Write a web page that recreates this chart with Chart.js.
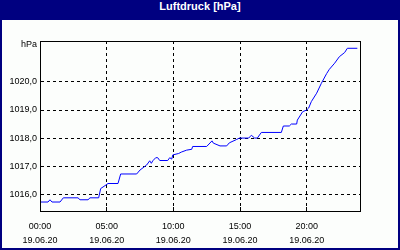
<!DOCTYPE html>
<html lang="de">
<head>
  <meta charset="UTF-8">
  <title>Luftdruck [hPa]</title>
  <script src="https://cdn.jsdelivr.net/npm/chart.js"></script>
  <style>
    html, body { margin: 0; padding: 0; }
    #frame { width: 400px; height: 250px; box-sizing: border-box; background: #000080; padding: 0 2px 2px 2px; }
    #title { height: 20px; line-height: 13px; text-align: center; color: #fff; font: bold 11px "Liberation Sans", Arial, sans-serif; }
    #wrap { position: relative; width: 396px; height: 228px; background: #fcfefc; }
  </style>
</head>
<body>
  <div id="frame">
    <div id="title">Luftdruck [hPa]</div>
    <div id="wrap"><canvas id="pressureChart"></canvas></div>
  </div>

  <script>
    // hours since 00:00 on 19.06.20
    const hours = [0, 0.6, 0.75, 0.9, 1.5, 1.75, 2.85, 3.0, 3.6, 3.75, 4.4, 4.55, 4.8, 5.1, 5.85, 6.05,
      7.25, 7.5, 8.0, 8.23, 8.35, 8.46, 8.68, 8.83, 8.98, 9.58, 9.73, 9.88, 9.96, 10.4, 10.6, 11.0,
      11.38, 11.45, 12.5, 12.9, 13.0, 13.5, 14.0, 14.2, 14.75, 14.95, 15.65, 15.85, 16.1, 16.3, 16.6,
      18.1, 18.25, 18.7, 18.85, 19.25, 19.3, 19.7, 20.0, 20.15, 20.35, 20.75, 21.1, 21.5, 21.7, 22.1,
      22.45, 22.85, 23.05, 23.8];
    const pressure = [1015.72, 1015.72, 1015.8, 1015.72, 1015.72, 1015.87, 1015.87, 1015.8, 1015.8, 1015.87,
      1015.87, 1016.2, 1016.28, 1016.38, 1016.38, 1016.72, 1016.72, 1016.86, 1017.04, 1017.19, 1017.1,
      1017.19, 1017.3, 1017.3, 1017.2, 1017.2, 1017.3, 1017.25, 1017.4, 1017.45, 1017.5, 1017.57, 1017.6,
      1017.7, 1017.7, 1017.9, 1017.82, 1017.72, 1017.72, 1017.83, 1017.95, 1018.0, 1018.0, 1018.1, 1018.0,
      1018.0, 1018.2, 1018.2, 1018.43, 1018.43, 1018.5, 1018.5, 1018.64, 1018.94, 1019.0, 1019.07, 1019.3,
      1019.6, 1019.95, 1020.3, 1020.45, 1020.67, 1020.9, 1021.05, 1021.2, 1021.2];

    const xLabelHours = [0, 5, 10, 15, 20];
    const xLabels = [['00:00', '19.06.20'], ['05:00', '19.06.20'], ['10:00', '19.06.20'], ['15:00', '19.06.20'], ['20:00', '19.06.20']];
    const Y_MIN = 1015.4, Y_MAX = 1021.46;
    const yTicks = [1016, 1017, 1018, 1019, 1020, 1021, 1021.34];
    const yLabels = ['1016,0', '1017,0', '1018,0', '1019,0', '1020,0', null, 'hPa'];

    const font = { family: '"Liberation Sans", Arial, sans-serif', size: 9 };

    // solid frame round the plot area
    const frame = {
      id: 'frame',
      afterDraw(chart) {
        const a = chart.chartArea, ctx = chart.ctx;
        ctx.save();
        ctx.strokeStyle = '#000';
        ctx.lineWidth = 1;
        ctx.strokeRect(Math.round(a.left) + 0.5, Math.round(a.top) + 0.5, Math.round(a.right - a.left), Math.round(a.bottom - a.top));
        ctx.restore();
      }
    };

    const ctx = document.getElementById('pressureChart').getContext('2d');
    new Chart(ctx, {
      type: 'line',
      data: {
        datasets: [{
          data: hours.map((h, i) => ({ x: h, y: pressure[i] })),
          borderColor: '#0000ff',
          borderWidth: 1,
          pointRadius: 0,
          fill: false,
          tension: 0
        }]
      },
      options: {
        responsive: true,
        maintainAspectRatio: false,
        animation: false,
        layout: { padding: { top: 21, right: 38, left: 0, bottom: 0 } },
        plugins: { legend: { display: false }, tooltip: { enabled: false } },
        scales: {
          x: {
            type: 'linear',
            min: 0,
            max: 24,
            afterFit: (s) => { s.height = 37; },
            border: { display: true, color: '#000', dash: [3, 3] },
            grid: {
              color: (c) => (c.tick && c.tick.value % 5 === 0 && c.tick.value > 0 && c.tick.value < 24) ? '#000' : 'rgba(0,0,0,0)',
              tickColor: '#000',
              tickLength: -4,
              tickBorderDash: []
            },
            ticks: {
              stepSize: 1,
              autoSkip: false,
              maxRotation: 0,
              padding: 12,
              color: '#000',
              font: { ...font, lineHeight: 1.6 },
              callback: (v) => {
                const i = xLabelHours.indexOf(v);
                return i >= 0 ? xLabels[i] : null;
              }
            }
          },
          y: {
            min: Y_MIN,
            max: Y_MAX,
            afterFit: (s) => { s.width = 38; },
            afterBuildTicks: (s) => { s.ticks = yTicks.map(v => ({ value: v })); },
            border: { display: true, color: '#000', dash: [3, 3] },
            grid: {
              color: (c) => (c.tick && c.tick.value <= 1021) ? '#000' : 'rgba(0,0,0,0)',
              drawTicks: false
            },
            ticks: {
              padding: 3,
              color: '#000',
              font: font,
              callback: (v, i) => yLabels[i]
            }
          }
        }
      },
      plugins: [frame]
    });
  </script>
</body>
</html>
